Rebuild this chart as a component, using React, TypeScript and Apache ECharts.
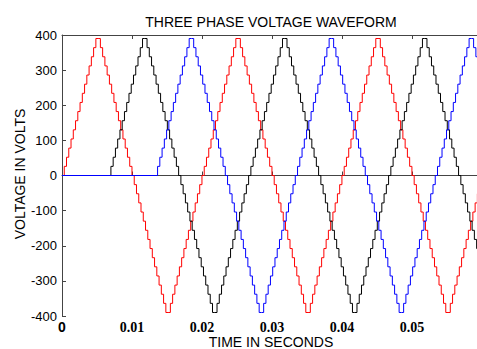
import React, { useEffect, useRef } from "react";
import * as echarts from "echarts";

// One period (0.02 s) of the staircase phase voltage, one level per step (V)
const periodLevels: number[] = [
  0, 26, 52, 78, 104, 130, 156, 182, 208, 234, 260, 286, 312, 338, 364, 390,
  390, 364, 338, 312, 286, 260, 234, 208, 182, 156, 130, 104, 78, 52, 26,
  0, -26, -52, -78, -104, -130, -156, -182, -208, -234, -260, -286, -312, -338, -364,
  -390, -390, -364, -338, -312, -286, -260, -234, -208, -182, -156, -130, -104, -78, -52, -26,
];
const period = 0.02; // s
const phaseStarts = { red: 0, black: 0.02 / 3, blue: 0.04 / 3 }; // s, start of each phase
const tEnd = 0.061;

const xTicks = [0, 0.01, 0.02, 0.03, 0.04, 0.05];
const yTicks = [-400, -300, -200, -100, 0, 100, 200, 300, 400];
const xAxisName = "TIME IN SECONDS";
const yAxisName = "VOLTAGE IN VOLTS";

function buildPhase(start: number): [number, number][] {
  const ts = period / periodLevels.length;
  const pts: [number, number][] = [];
  if (start > 0) pts.push([0, 0]);
  for (let k = 0; start + k * ts <= tEnd; k++) {
    pts.push([start + k * ts, periodLevels[k % periodLevels.length]]);
  }
  return pts;
}

export default function App() {
  const ref = useRef<HTMLDivElement>(null);
  useEffect(() => {
    document.body.style.margin = "0";
    if (!ref.current) return;
    const chart = echarts.init(ref.current, null, { renderer: "svg" });
    const axisColor = "#444";
    const sans = "'Liberation Sans', Arial, sans-serif";
    chart.setOption({
      animation: false,
      backgroundColor: "#fff",
      title: {
        text: "THREE PHASE VOLTAGE WAVEFORM",
        left: 266,
        top: 10,
        textAlign: "center",
        textStyle: { fontFamily: sans, fontSize: 14, fontWeight: "normal", color: "#000" },
      },
      graphic: [
        {
          type: "text",
          x: 271,
          y: 342,
          style: {
            text: xAxisName,
            fontFamily: sans,
            fontSize: 14,
            fill: "#000",
            align: "center",
            verticalAlign: "middle",
          },
        },
        {
          type: "text",
          x: 20,
          y: 174,
          rotation: Math.PI / 2,
          style: {
            text: yAxisName,
            fontFamily: sans,
            fontSize: 14,
            fill: "#000",
            align: "center",
            verticalAlign: "middle",
          },
        },
      ],
      grid: {
        left: 62,
        right: 0,
        top: 35,
        bottom: 33,
        containLabel: false,
        outerBoundsMode: "none",
      },
      xAxis: [
        {
          type: "value",
          min: xTicks[0],
          max: 0.0593,
          interval: 0.01,
          axisLine: { show: true, lineStyle: { color: axisColor, width: 1 } },
          axisTick: { show: true, inside: true, length: 4, lineStyle: { color: axisColor } },
          splitLine: { show: false },
          axisLabel: {
            margin: 4,
            showMaxLabel: false,
            formatter: (v: number) =>
              Math.abs(v) < 1e-9 ? "{z|0}" : "{d|" + v.toFixed(2) + "}",
            rich: {
              z: { fontFamily: sans, fontWeight: "bold", fontSize: 14, lineHeight: 14, color: "#000" },
              d: { fontFamily: "'Liberation Serif', 'Times New Roman', serif", fontWeight: "bold", fontSize: 14, lineHeight: 14, color: "#000" },
            },
          },
        },
        {
          type: "value",
          position: "top",
          min: xTicks[0],
          max: 0.0593,
          interval: 0.01,
          axisLine: { show: true, lineStyle: { color: axisColor, width: 1 } },
          axisTick: { show: true, inside: true, length: 4, lineStyle: { color: axisColor } },
          axisLabel: { show: false },
          splitLine: { show: false },
        },
      ],
      yAxis: {
        type: "value",
        min: yTicks[0],
        max: yTicks[yTicks.length - 1],
        interval: 100,
        axisLine: { show: true, lineStyle: { color: axisColor, width: 1 } },
        axisTick: { show: true, inside: true, length: 4, lineStyle: { color: axisColor } },
        splitLine: { show: false },
        axisLabel: { fontFamily: sans, fontSize: 13, color: "#000", margin: 5 },
      },
      series: [
        { name: "Phase A", color: "#ff0000", data: buildPhase(phaseStarts.red) },
        { name: "Phase C", color: "#000000", data: buildPhase(phaseStarts.black) },
        { name: "Phase B", color: "#0000ff", data: buildPhase(phaseStarts.blue) },
      ].map((s) => ({
        type: "line",
        name: s.name,
        step: "end",
        data: s.data,
        showSymbol: false,
        symbol: "none",
        clip: true,
        lineStyle: { color: s.color, width: 1 },
        itemStyle: { color: s.color },
      })),
    });
    return () => chart.dispose();
  }, []);
  return <div ref={ref} style={{ position: "fixed", left: 0, top: 0, width: 477, height: 349 }} />;
}
